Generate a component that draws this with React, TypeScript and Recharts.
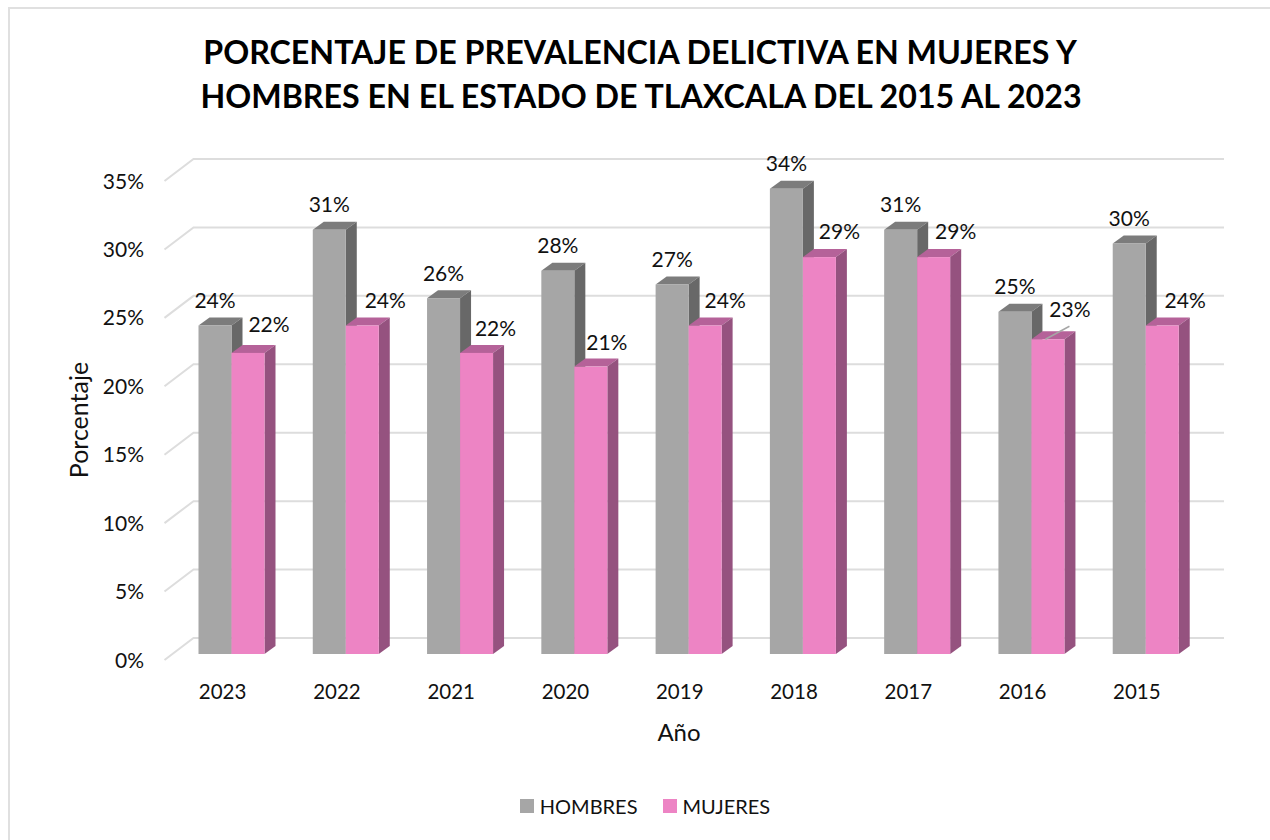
import { BarChart, Bar, XAxis, YAxis, CartesianGrid, Legend, LabelList } from "recharts";

const years = ["2023", "2022", "2021", "2020", "2019", "2018", "2017", "2016", "2015"];
const hombres = [24, 31, 26, 28, 27, 34, 31, 25, 30];
const mujeres = [22, 24, 22, 21, 24, 29, 29, 23, 24];
const yTicks = [0, 5, 10, 15, 20, 25, 30, 35];

const rows = years.map((year, i) => ({ year, hombres: hombres[i], mujeres: mujeres[i] }));

const FONT = "Lato, 'Open Sans', sans-serif";
const TEXT = "#111111";
// profundidad del efecto 3D
const DX = 11;
const DY = 8;
// ajuste manual de las etiquetas de mujeres (como en el original)
const mujeresNudge = [
  [1, -3],
  [3, 0],
  [-1, 1],
  [-4, 1],
  [0, 0],
  [0, -1],
  [2, -1],
  [2, -5],
  [3, 0],
];

function Bar3D({ x, y, width, height, fill, topFill, sideFill }: any) {
  return (
    <g>
      <path d={`M${x} ${y}l${DX} ${-DY}h${width}l${-DX} ${DY}z`} fill={topFill} />
      <path d={`M${x + width} ${y}l${DX} ${-DY}v${height}l${-DX} ${DY}z`} fill={sideFill} />
      <rect x={x} y={y} width={width} height={height} fill={fill} />
    </g>
  );
}

function GridLine({ x1, x2, y1 }: any) {
  return (
    <path
      d={`M${x1 - 10} ${y1 + 6}L${x1 + 19} ${y1 - 16}H${x2 + 21}`}
      fill="none"
      stroke="#DDDDDD"
      strokeWidth={2}
    />
  );
}

function HombresLabel({ x, y, width, value }: any) {
  return (
    <text x={x + width / 2} y={y - 26} textAnchor="middle" dominantBaseline="central" fontSize={21} fontFamily={FONT} fill={TEXT}>
      {value}%
    </text>
  );
}

function MujeresLabel({ x, y, width, value, index }: any) {
  const [nx, ny] = mujeresNudge[index];
  const cx = x + width / 2 + 20 + nx;
  const cy = y - 26 + ny;
  return (
    <g>
      {years[index] === "2016" && (
        <line x1={x + 14} y1={y} x2={x + 38} y2={y - 13} stroke="#A6A6A6" strokeWidth={1.5} />
      )}
      <text x={cx} y={cy} textAnchor="middle" dominantBaseline="central" fontSize={21} fontFamily={FONT} fill={TEXT}>
        {value}%
      </text>
    </g>
  );
}

function YTick({ y, payload }: any) {
  return (
    <text x={144} y={y + 5} textAnchor="end" dominantBaseline="central" fontSize={21} fontFamily={FONT} fill={TEXT}>
      {payload.value}%
    </text>
  );
}

function XTick({ x, y, payload }: any) {
  return (
    <text x={x - 9} y={y + 29} textAnchor="middle" dominantBaseline="central" fontSize={20.5} fontFamily={FONT} fill={TEXT}>
      {payload.value}
    </text>
  );
}

function LegendBox({ payload }: any) {
  return (
    <div style={{ display: "flex", justifyContent: "center", gap: 25, fontFamily: FONT, fontSize: 20, color: TEXT, height: 30, alignItems: "center" }}>
      {(payload || []).map((item: any) => (
        <span key={item.value} style={{ display: "flex", alignItems: "center", gap: 6 }}>
          <span style={{ width: 14, height: 14, background: item.color, display: "inline-block" }} />
          {item.value}
        </span>
      ))}
    </div>
  );
}

export default function App() {
  return (
    <div style={{ position: "absolute", left: 0, top: 0, width: 1270, height: 840, overflow: "hidden", background: "#fff" }}>
      <div style={{ position: "absolute", left: 8, top: 7, width: 1290, height: 860, border: "2px solid #E0E0E0" }} />
      <BarChart
        width={1270}
        height={840}
        data={rows}
        barSize={33}
        barGap={0}
        margin={{ top: 175, right: 67, bottom: 126, left: 114.5 }}
        style={{ position: "absolute", left: 0, top: 0 }}
      >
        <CartesianGrid vertical={false} horizontal={(props: any) => <GridLine key={props.key} {...props} />} />
        <XAxis dataKey="year" axisLine={false} tickLine={false} height={30} tick={<XTick />} interval={0} />
        <YAxis width={60} domain={[0, 35]} ticks={yTicks} axisLine={false} tickLine={false} tick={<YTick />} interval={0} />
        <Legend content={<LegendBox />} wrapperStyle={{ left: 10, width: 1270, top: 791 }} />
        <Bar
          dataKey="hombres"
          name="HOMBRES"
          fill="#A6A6A6"
          isAnimationActive={false}
          shape={<Bar3D topFill="#7C7C7C" sideFill="#686868" />}
        >
          <LabelList dataKey="hombres" content={<HombresLabel />} />
        </Bar>
        <Bar
          dataKey="mujeres"
          name="MUJERES"
          fill="#ED84C4"
          isAnimationActive={false}
          shape={<Bar3D topFill="#B56299" sideFill="#95527F" />}
        >
          <LabelList dataKey="mujeres" content={<MujeresLabel />} />
        </Bar>
      </BarChart>
      <svg width={1270} height={840} style={{ position: "absolute", left: 0, top: 0, pointerEvents: "none" }}>
        <text x={640} y={64} textAnchor="middle" fontSize={32.2} fontWeight={700} fontFamily={FONT} fill="#000">
          PORCENTAJE DE PREVALENCIA DELICTIVA EN MUJERES Y
        </text>
        <text x={641} y={108} textAnchor="middle" fontSize={32.2} fontWeight={700} fontFamily={FONT} fill="#000">
          HOMBRES EN EL ESTADO DE TLAXCALA DEL 2015 AL 2023
        </text>
        <text x={679} y={731} textAnchor="middle" dominantBaseline="central" fontSize={24} fontFamily={FONT} fill={TEXT}>
          Año
        </text>
        <text x={78} y={420} transform="rotate(-90 78 420)" textAnchor="middle" dominantBaseline="central" fontSize={25} fontFamily={FONT} fill={TEXT}>
          Porcentaje
        </text>
      </svg>
    </div>
  );
}
